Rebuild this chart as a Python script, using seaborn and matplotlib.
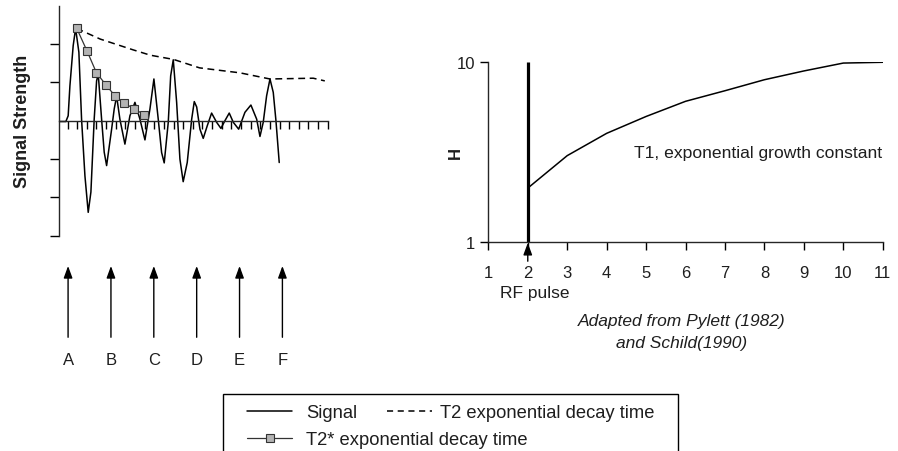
import numpy as np
import pandas as pd
import matplotlib
matplotlib.use("Agg")
import matplotlib.pyplot as plt
import seaborn as sns
from matplotlib.lines import Line2D
from matplotlib.patches import Rectangle
from matplotlib.ticker import NullLocator, FixedLocator

# ---------------- data ----------------
signal_x = [0.15, 0.82, 1.06, 1.24, 1.58, 1.83, 2.17, 2.45, 2.80, 3.14, 3.42, 3.76, 4.01, 4.18,
            4.53, 4.80, 5.05, 5.57, 5.84, 6.09, 6.43, 6.95, 7.47, 7.99, 8.51, 9.03, 9.55, 9.96,
            10.41, 10.76, 11.03, 11.45, 11.70, 11.97, 12.32, 12.66, 13.00, 13.42, 13.88, 14.15,
            14.40, 14.74, 15.08, 15.50, 15.95, 16.47, 16.92, 17.33, 17.78, 18.20, 18.76, 19.41,
            20.03, 20.63, 20.97, 21.31, 21.66, 22.01, 22.35, 22.63, 22.97]
signal_y = [-0.02, -0.02, 0.13, 0.91, 1.96, 2.41, 1.79, 0.04, -1.44, -2.39, -1.86, 0.04, 1.04, 1.22,
            0.04, -0.82, -1.17, -0.22, 0.31, 0.64, 0.04, -0.61, 0.13, 0.48, 0.04, -0.50, 0.31, 1.09,
            0.04, -0.83, -1.10, -0.04, 1.17, 1.59, 0.48, -1.00, -1.59, -1.09, 0.04, 0.50,
            0.36, -0.22, -0.46, -0.13, 0.20, -0.04, -0.20, 0.00, 0.20, -0.04, -0.22, 0.22,
            0.41, 0.04, -0.41, -0.04, 0.65, 1.09, 0.74, 0.00, -1.09]

t2star_x = [1.95, 3.0, 4.0, 5.0, 5.95, 6.9, 7.9, 8.95]
t2star_y = [2.41, 1.83, 1.25, 0.93, 0.64, 0.46, 0.31, 0.16]

t2_x = [1.93, 4.4, 7.8, 9.6, 12.0, 14.7, 18.9, 22.0, 26.5, 27.7]
t2_y = [2.41, 2.13, 1.85, 1.71, 1.60, 1.38, 1.25, 1.09, 1.11, 1.04]

pulse_labels = ["A", "B", "C", "D", "E", "F"]
pulse_x = [1.05, 5.5, 9.95, 14.4, 18.85, 23.3]

t1_x = [2, 3, 4, 5, 6, 7, 8, 9, 10, 11]
t1_y = [2.0, 3.03, 4.03, 5.0, 6.07, 6.95, 8.0, 8.95, 9.9, 10.0]
rf_x = 2
right_xticks = list(range(1, 12))
right_yticks = [1, 10]
right_yticklabels = ["1", "10"]

# ---------------- style ----------------
sns.set_style("ticks")
plt.rcParams["font.family"] = ["Liberation Sans", "DejaVu Sans"]
plt.rcParams["axes.linewidth"] = 1.0
TXT = "#1e1e1e"
LW = 1.1

fig = plt.figure(figsize=(8.98, 4.52), dpi=100)

# ---------------- left panel ----------------
ax = fig.add_axes([0.0660, 0.4763, 0.2989, 0.5087])
sns.lineplot(x=signal_x, y=signal_y, ax=ax, color="black", lw=LW,
             estimator=None, sort=False)
sns.lineplot(x=t2_x, y=t2_y, ax=ax, color="black", lw=LW,
             estimator=None, sort=False)
ax.lines[-1].set_dashes((4.5, 3.0))
sns.lineplot(x=t2star_x, y=t2star_y, ax=ax, color="#333333", lw=0.9,
             estimator=None, sort=False, marker="s", markersize=5.5,
             markerfacecolor="#b3b3b3", markeredgecolor="#333333", markeredgewidth=0.8)

ax.set_xlim(0.135, 28)
ax.set_ylim(-3, 3)
for s in ["top", "right"]:
    ax.spines[s].set_visible(False)
ax.spines["bottom"].set_position(("data", 0))
ax.xaxis.set_major_locator(FixedLocator(list(range(1, 29))))
ax.set_xticklabels([])
ax.yaxis.set_major_locator(FixedLocator([-3, -2, -1, 1, 2]))
ax.set_yticklabels([])
ax.tick_params(axis="x", direction="out", length=5.8, width=1.0, color="black")
ax.tick_params(axis="y", direction="out", length=6.5, width=1.0, color="black")
ax.set_ylabel("Signal Strength", fontsize=13, fontweight="bold", color=TXT)
ax.yaxis.set_label_coords(-0.105, 0.5)

for lab, xv in zip(pulse_labels, pulse_x):
    ax.annotate("", xy=(xv, -3.79), xytext=(xv, -5.65), xycoords="data",
                arrowprops=dict(arrowstyle="-|>,head_length=0.6,head_width=0.22",
                                color="black", lw=1.0, mutation_scale=12,
                                shrinkA=0, shrinkB=0),
                annotation_clip=False)
    ax.text(xv, -6.22, lab, ha="center", va="center", fontsize=12, color=TXT,
            clip_on=False)

# ---------------- right panel ----------------
ax2 = fig.add_axes([0.5438, 0.4617, 0.4392, 0.3983])
sns.lineplot(x=t1_x, y=t1_y, ax=ax2, color="black", lw=LW, estimator=None, sort=False)
ax2.vlines(rf_x, right_yticks[0], right_yticks[-1], color="black", lw=2.3)
ax2.set_yscale("log")
ax2.set_xlim(1, 11)
ax2.set_ylim(1, 10)
for s in ["top", "right"]:
    ax2.spines[s].set_visible(False)
ax2.xaxis.set_major_locator(FixedLocator(right_xticks))
ax2.set_xticklabels([str(v) for v in right_xticks])
ax2.yaxis.set_major_locator(FixedLocator(right_yticks))
ax2.yaxis.set_minor_locator(NullLocator())
ax2.set_yticklabels(right_yticklabels)
ax2.tick_params(axis="both", direction="out", length=5.5, width=1.0, color="black",
                labelsize=12, labelcolor=TXT)
ax2.tick_params(axis="x", pad=11)
ax2.tick_params(axis="y", pad=4)
ax2.set_ylabel("H", fontsize=12, fontweight="bold", color=TXT)
ax2.yaxis.set_label_coords(-0.065, 0.5)

ax2.annotate("", xy=(rf_x, -0.003), xytext=(rf_x, -0.105),
             xycoords=("data", "axes fraction"), textcoords=("data", "axes fraction"),
             arrowprops=dict(arrowstyle="-|>,head_length=0.6,head_width=0.22",
                             color="black", lw=1.0, mutation_scale=12,
                             shrinkA=0, shrinkB=0),
             annotation_clip=False)
ax2.text(2.18, -0.276, "RF pulse", transform=ax2.get_xaxis_transform(),
         ha="center", va="center", fontsize=12.5, color=TXT)
ax2.text(5.9, -0.436, "Adapted from Pylett (1982)", transform=ax2.get_xaxis_transform(),
         ha="center", va="center", fontsize=12.5, style="italic", color=TXT)
ax2.text(5.9, -0.559, "and Schild(1990)", transform=ax2.get_xaxis_transform(),
         ha="center", va="center", fontsize=12.5, style="italic", color=TXT)
ax2.text(4.69, 3.17, "T1, exponential growth constant", ha="left", va="center",
         fontsize=12.6, color=TXT)

# ---------------- legend ----------------
W, H = 898.0, 452.0
fig.patches.append(Rectangle((223 / W, -0.05), 455 / W, (1 - 395 / H) + 0.05,
                             transform=fig.transFigure, fill=False,
                             edgecolor="black", lw=1.0))
h_sig = Line2D([], [], color="black", lw=LW)
h_t2s = Line2D([], [], color="#333333", lw=0.9, marker="s", markersize=5.5,
               markerfacecolor="#b3b3b3", markeredgecolor="#333333", markeredgewidth=0.8)
h_t2 = Line2D([], [], color="black", lw=LW, dashes=(4.0, 3.0))
leg_kw = dict(loc="upper left", frameon=False, borderpad=0, borderaxespad=0,
              handlelength=2.46, labelspacing=0.57, fontsize=13.2, labelcolor=TXT)
fig.legend([h_sig, h_t2s], ["Signal", "T2* exponential decay time"],
           bbox_to_anchor=(247 / W, 1 - 405 / H), handletextpad=0.77, **leg_kw)
fig.legend([h_t2], ["T2 exponential decay time"],
           bbox_to_anchor=(387 / W, 1 - 405 / H), handletextpad=0.44, **leg_kw)

fig.savefig("out.png", dpi=100)
